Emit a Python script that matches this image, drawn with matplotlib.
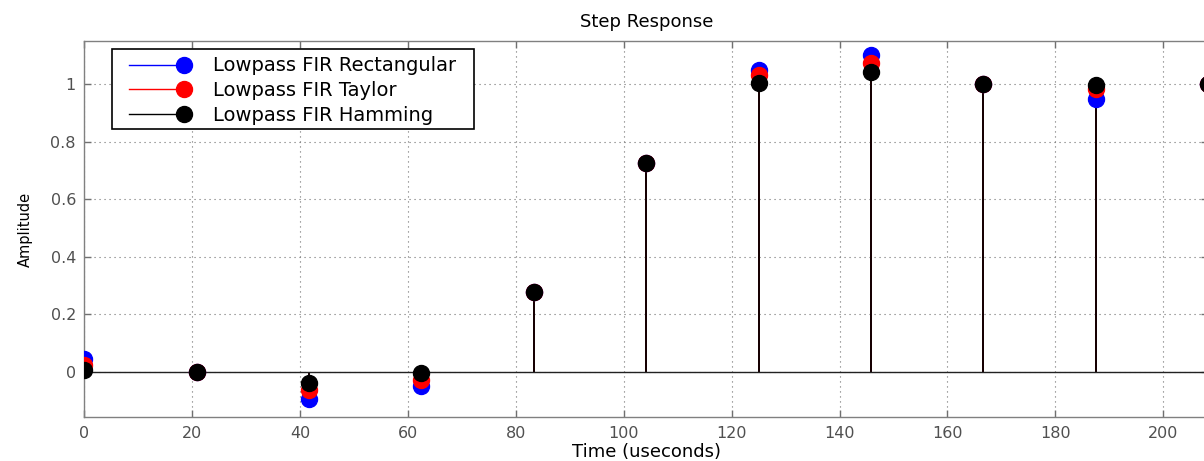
import numpy as np
import matplotlib
matplotlib.use("Agg")
import matplotlib.pyplot as plt
from matplotlib.lines import Line2D
from matplotlib.patches import Rectangle
from matplotlib.legend_handler import HandlerBase
from matplotlib.ticker import FuncFormatter

# ---- data ----
time_us = [0, 20.833, 41.667, 62.5, 83.333, 104.167, 125.0, 145.833, 166.667, 187.5, 208.333]
rect = [0.045, -0.002, -0.096, -0.048, 0.277, 0.725, 1.049, 1.101, 1.0, 0.950, 1.0]
taylor = [0.025, -0.002, -0.064, -0.030, 0.277, 0.725, 1.031, 1.073, 1.0, 0.982, 1.0]
hamming = [0.005, -0.002, -0.038, -0.005, 0.277, 0.725, 1.004, 1.043, 1.0, 0.996, 1.0]
labels = ["Lowpass FIR Rectangular", "Lowpass FIR Taylor", "Lowpass FIR Hamming"]
colors = ["#0000ff", "#ff0000", "#000000"]
xticks = [0, 20, 40, 60, 80, 100, 120, 140, 160, 180, 200]
yticks = [0, 0.2, 0.4, 0.6, 0.8, 1.0]

plt.rcParams['font.family'] = ['DejaVu Sans']

W, H = 1204, 461
fig = plt.figure(figsize=(W / 100, H / 100), dpi=100)
left = 84.3 / W
bottom = 1 - 417.3 / H
top = 1 - 41 / H
right = (84.3 + 208.333 * 5.395) / W
ax = fig.add_axes([left, bottom, right - left, top - bottom])

ms = 11.5
series = [rect, taylor, hamming]
for vals, col, lab in zip(series, colors, labels):
    ml, sl, bl = ax.stem(time_us, vals, linefmt='-', markerfmt='o', basefmt='-')
    plt.setp(sl, color=col, linewidth=1.3)
    plt.setp(ml, color=col, markersize=ms, markeredgecolor=col, zorder=3)
    if col == "#000000":
        plt.setp(bl, color='#222222', linewidth=1.0)
    else:
        bl.set_visible(False)

ax.set_xlim(0, 208.333)
ax.set_ylim(-0.158, 1.15)
ax.set_xticks(xticks)
ax.set_yticks(yticks)
ax.yaxis.set_major_formatter(FuncFormatter(lambda v, p: f"{v:g}"))
ax.tick_params(direction='in', length=5, width=1, color='#707070',
               top=True, right=True, labelsize=11.5, labelcolor='#505050', pad=6)
for s in ax.spines.values():
    s.set_color('#808080')
    s.set_linewidth(1.0)
ax.grid(True, linestyle=(0, (1, 3.5)), color='#707070', linewidth=0.8)
ax.set_axisbelow(True)

ax.set_title("Step Response", fontsize=13, pad=10)
ax.set_xlabel("Time (useconds)", fontsize=13, labelpad=2)
ax.set_ylabel("Amplitude", fontsize=10.5, labelpad=13)


class StemHandler(HandlerBase):
    def __init__(self, color):
        super().__init__()
        self.color = color

    def create_artists(self, legend, orig_handle, xdescent, ydescent, width,
                       height, fontsize, trans):
        y = height / 2 - ydescent
        x0 = -xdescent + 0.2 * width
        x1 = -xdescent + width
        ln = Line2D([x0, x1], [y, y], color=self.color, linewidth=1.0)
        mk = Line2D([x1], [y], marker='o', markersize=ms, color=self.color,
                    markeredgecolor=self.color, linestyle='none')
        ln.set_transform(trans)
        mk.set_transform(trans)
        return [ln, mk]


# legend frame (MATLAB-style box)
frame = Rectangle((112 / W, 1 - 129 / H), (474 - 112) / W, 80 / H,
                  transform=fig.transFigure, facecolor='white',
                  edgecolor='black', linewidth=1.2, zorder=10)
fig.patches.append(frame)

proxies = [Line2D([], [], color=c) for c in colors]
leg = fig.legend(proxies, labels, loc='upper left',
                 bbox_to_anchor=(112 / W, 1 - 53.5 / H),
                 bbox_transform=fig.transFigure, borderaxespad=0,
                 fontsize=14, frameon=False,
                 handlelength=3.56, handletextpad=1.5, labelspacing=0.3,
                 borderpad=0.15,
                 handler_map={p: StemHandler(c) for p, c in zip(proxies, colors)})
leg.set_zorder(11)

fig.savefig("out.png", dpi=100)
